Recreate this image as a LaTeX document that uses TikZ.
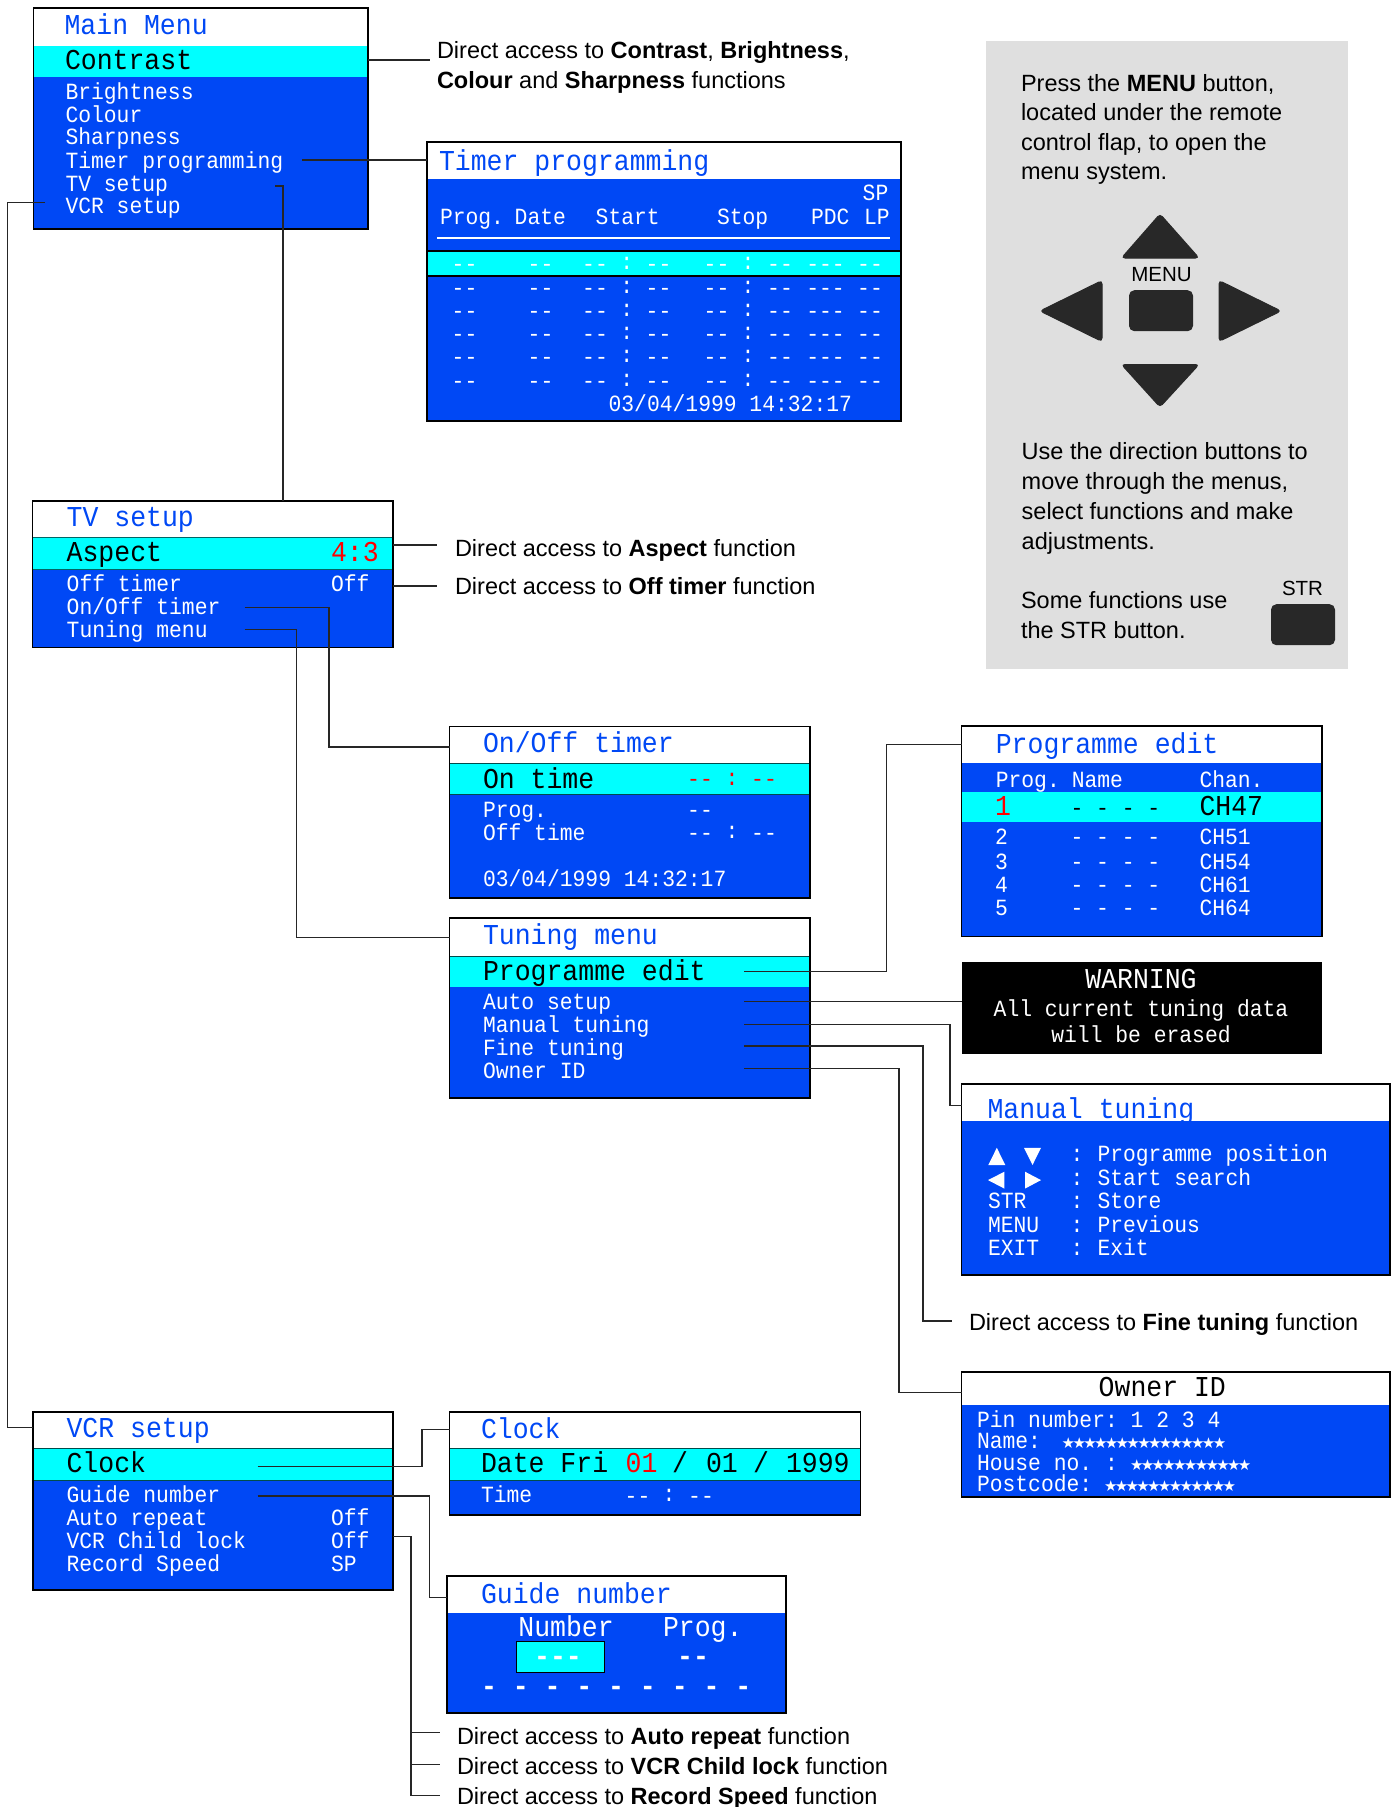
\documentclass[tikz,border=0pt]{standalone}
\usepackage{fontspec}
\setmainfont{Liberation Sans}
\setmonofont[FakeStretch=0.92]{Liberation Mono}
\newfontfamily\symf{DejaVu Sans}
\definecolor{osd}{HTML}{0048F5}
\definecolor{cy}{HTML}{00FFFF}
\definecolor{panel}{HTML}{DFDFDF}
\definecolor{btn}{HTML}{282828}
\newcounter{tc}
\tikzset{
  txt/.style={anchor=base west,inner sep=0pt,outer sep=0pt},
  big/.style={txt,font=\fontsize{28.8}{30}\selectfont\ttfamily},
  bigb/.style={txt,font=\fontsize{28.8}{30}\selectfont\ttfamily\bfseries},
  small/.style={txt,font=\fontsize{23.2}{25}\selectfont\ttfamily},
  w/.style={text=white},
  ttl/.style={big,text=osd},
  hd/.style={big,text=black},
  note/.style={txt,font=\fontsize{23.5}{28}\selectfont},
  pan/.style={txt,font=\fontsize{23.5}{28}\selectfont},
  keycap/.style={anchor=base,inner sep=0pt,outer sep=0pt,font=\fontsize{20.5}{24}\selectfont},
  dashc/.style={small,anchor=base,text=white},
  conn/.style={line width=1.3pt,draw=black!85},
  frame/.style={line width=1.7pt,draw=black},
  keyb/.style={fill=btn,draw=btn,line width=1pt,rounded corners=3.5pt},
  bg/.style={fill=white,inner sep=0pt,outer sep=0pt,anchor=north west},
}
\newcommand{\lab}[4]{\stepcounter{tc}\node[#1] (t\arabic{tc}) at (#2,#3) {#4};}
\newcommand{\screen}[5]{\node[bg,minimum width={(#4-#2)*1pt},minimum height={(#5-#3)*1pt}] (#1) at (#2,#3) {};}
\newcommand{\body}[4]{\fill[osd] (#1,#3) rectangle (#2,#4);}
\newcommand{\band}[4]{\fill[cy] (#1,#3) rectangle (#2,#4);}
\newcommand{\outline}[1]{\draw[frame] (#1.north west) rectangle (#1.south east);}
\newcommand{\strs}[1]{{\symf\fontsize{15}{15}\selectfont\foreach \i in {1,...,#1}{★\kern-2.65pt}}}
\begin{document}
\begin{tikzpicture}[x=1pt,y=-1pt]
\useasboundingbox (0,0) rectangle (1396,1807);
\fill[white] (0,0) rectangle (1396,1807);

% ---------- grey panel
\fill[panel] (986,41) rectangle (1348,669);
\lab{pan}{1021}{91}{Press the \textbf{MENU} button,}
\lab{pan}{1021}{120.5}{located under the remote}
\lab{pan}{1021}{150}{control flap, to open the}
\lab{pan}{1021}{179}{menu system.}
\lab{pan}{1021.7}{459}{Use the direction buttons to}
\lab{pan}{1021.7}{489.5}{move through the menus,}
\lab{pan}{1021.7}{519.5}{select functions and make}
\lab{pan}{1021.7}{549}{adjustments.}
\lab{pan}{1021}{608.7}{Some functions use}
\lab{pan}{1021}{638.6}{the STR button.}
\lab{keycap}{1161.5}{281}{MENU}
\lab{keycap}{1302.5}{595}{STR}
\draw[keyb] (1160,214) -- (1199,258) -- (1121.5,258) -- cycle;
\draw[keyb] (1160,407) -- (1199,364.5) -- (1121.5,364.5) -- cycle;
\draw[keyb] (1040,311) -- (1102,280.5) -- (1102,341.5) -- cycle;
\draw[keyb] (1281,311) -- (1219,280.5) -- (1219,341.5) -- cycle;
\node[keyb,inner sep=0pt,minimum width=63pt,minimum height=40pt,rounded corners=5pt] (menubtn) at (1161,310.7) {};
\node[keyb,inner sep=0pt,minimum width=63pt,minimum height=40pt,rounded corners=5pt] (strbtn) at (1303,624.7) {};

% ---------- Main menu
\screen{mainbox}{33.5}{8}{368}{229}
\body{33.5}{368}{46}{229}
\band{33.5}{368}{46}{77}
% ---------- Timer programming
\screen{timerbox}{427}{142}{901}{421}
\body{427}{901}{179}{421}
\band{427}{901}{251}{276}
\draw[line width=1.2pt,black] (427,251) -- (901,251) (427,276) -- (901,276);
\draw[white,line width=2pt] (437,238) -- (890,238);
% ---------- TV setup
\screen{tvbox}{32.5}{501}{393}{647.5}
\body{32.5}{393}{537.5}{647.5}
\band{32.5}{393}{537.5}{569}
\draw[line width=.8pt,black!60!cy] (32.5,537.5) -- (393,537.5) (32.5,569) -- (393,569);
% ---------- On/Off timer
\screen{onoffbox}{449.5}{726.5}{810}{898}
\body{449.5}{810}{763}{898}
\band{449.5}{810}{763}{794}
\draw[line width=.8pt,black!70!cy] (449.5,763) -- (810,763) (449.5,794) -- (810,794);
% ---------- Tuning menu
\screen{tuningbox}{449.5}{918}{810}{1097.7}
\body{449.5}{810}{956}{1097.7}
\band{449.5}{810}{956}{986.6}
\draw[line width=.8pt,black!70!cy] (449.5,956) -- (810,956);
% ---------- Programme edit
\screen{progbox}{961.5}{725.8}{1321.8}{936.5}
\body{961.5}{1321.8}{763}{936.5}
\band{961.5}{1321.8}{791.6}{822}
% ---------- Warning
\node[bg,fill=black,minimum width=360.3pt,minimum height=92pt] (warnbox) at (961.5,962) {};
% ---------- Manual tuning (the title is cut by the blue body)
\screen{manualbox}{961.5}{1084}{1390}{1275}
\lab{ttl}{987.5}{1118}{Manual tuning}
\body{961.5}{1390}{1121}{1275}
% ---------- Owner ID
\screen{ownerbox}{961.5}{1371.7}{1390}{1496.7}
\body{961.5}{1390}{1405.4}{1496.7}
% ---------- VCR setup
\screen{vcrbox}{32.7}{1411.7}{393}{1590}
\body{32.7}{393}{1448.7}{1590}
\band{32.7}{393}{1448.7}{1480}
\draw[line width=.8pt,black!70!cy] (32.7,1448.7) -- (393,1448.7) (32.7,1480) -- (393,1480);
% ---------- Clock
\screen{clockbox}{449.5}{1411.7}{860.5}{1514.7}
\body{449.5}{860.5}{1448.7}{1514.7}
\band{449.5}{860.5}{1448.7}{1480}
\draw[line width=.8pt,black!70!cy] (449.5,1448.7) -- (860.5,1448.7) (449.5,1480) -- (860.5,1480);
% ---------- Guide number
\screen{guidebox}{447}{1576}{786}{1713}
\body{447}{786}{1612.7}{1713}
\node[fill=cy,draw=black,line width=1pt,inner sep=0pt,outer sep=0pt,anchor=north west,minimum width=87.4pt,minimum height=31pt] (guidecell) at (516.6,1641.7) {};

\foreach \b in {mainbox,timerbox,tvbox,onoffbox,tuningbox,progbox,manualbox,ownerbox,vcrbox,clockbox,guidebox}{\outline{\b}}

% ---------- connector ends
\coordinate (cContrast) at (430,60);
\coordinate (sTimer) at (302,160);
\coordinate (sTV) at (275,186);
\coordinate (kTV) at (283,186);
\coordinate (sVCR) at (45,202.7);
\coordinate (kVCR) at (7.5,202.7);
\coordinate (eVCR) at (7.5,1427.7);
\coordinate (cAspect) at (437,545);
\coordinate (cOff) at (437,586);
\coordinate (sOnOff) at (244.6,607.4);
\coordinate (kOnOff) at (329,607.4);
\coordinate (eOnOff) at (329,747);
\coordinate (sTun) at (244.6,629.6);
\coordinate (kTun) at (296.5,629.6);
\coordinate (eTun) at (296.5,937.6);
\coordinate (sProg) at (744,971.6);
\coordinate (kProg) at (886.8,971.6);
\coordinate (eProg) at (886.8,744.7);
\coordinate (sAuto) at (744,1001.5);
\coordinate (sMan) at (744,1024.8);
\coordinate (kMan) at (950,1024.8);
\coordinate (eMan) at (950,1105.4);
\coordinate (sFine) at (744,1046);
\coordinate (kFine) at (923,1046);
\coordinate (eFine) at (923,1321);
\coordinate (fFine) at (951.8,1321);
\coordinate (sOwn) at (744,1068.7);
\coordinate (kOwn) at (899,1068.7);
\coordinate (eOwn) at (899,1392.7);
\coordinate (sClock) at (257.7,1466.7);
\coordinate (kClock) at (422,1466.7);
\coordinate (eClock) at (422,1429.3);
\coordinate (sGuide) at (257.7,1496);
\coordinate (kGuide) at (429.4,1496);
\coordinate (eGuide) at (429.4,1597.3);
\coordinate (kDir) at (411,1536.7);
\coordinate (eD1) at (411,1732.7);
\coordinate (fD1) at (440,1732.7);
\coordinate (eD2) at (411,1764.7);
\coordinate (fD2) at (440,1764.7);
\coordinate (eD3) at (411,1795.7);
\coordinate (fD3) at (440,1795.7);

% ---------- connectors
\draw[conn] (mainbox.east |- cContrast) -- (cContrast);
\draw[conn] (sTimer) -- (sTimer -| timerbox.west);
\draw[conn] (sTV) -- (kTV) -- (kTV |- tvbox.north);
\draw[conn] (sVCR) -- (kVCR) -- (eVCR) -- (eVCR -| vcrbox.west);
\draw[conn] (tvbox.east |- cAspect) -- (cAspect);
\draw[conn] (tvbox.east |- cOff) -- (cOff);
\draw[conn] (sOnOff) -- (kOnOff) -- (eOnOff) -- (eOnOff -| onoffbox.west);
\draw[conn] (sTun) -- (kTun) -- (eTun) -- (eTun -| tuningbox.west);
\draw[conn] (sProg) -- (kProg) -- (eProg) -- (eProg -| progbox.west);
\draw[conn] (sAuto) -- (sAuto -| warnbox.west);
\draw[conn] (sMan) -- (kMan) -- (eMan) -- (eMan -| manualbox.west);
\draw[conn] (sFine) -- (kFine) -- (eFine) -- (fFine);
\draw[conn] (sOwn) -- (kOwn) -- (eOwn) -- (eOwn -| ownerbox.west);
\draw[conn] (sClock) -- (kClock) -- (eClock) -- (eClock -| clockbox.west);
\draw[conn] (sGuide) -- (kGuide) -- (eGuide) -- (eGuide -| guidebox.west);
\draw[conn] (vcrbox.east |- kDir) -- (kDir) -- (eD3) -- (fD3);
\draw[conn] (eD1) -- (fD1);
\draw[conn] (eD2) -- (fD2);

% ---------- notes
\lab{note}{437}{58}{Direct access to \textbf{Contrast}, \textbf{Brightness},}
\lab{note}{437}{88}{\textbf{Colour} and \textbf{Sharpness} functions}
\lab{note}{455}{556}{Direct access to \textbf{Aspect} function}
\lab{note}{455}{594}{Direct access to \textbf{Off timer} function}
\lab{note}{969}{1330}{Direct access to \textbf{Fine tuning} function}
\lab{note}{457}{1744}{Direct access to \textbf{Auto repeat} function}
\lab{note}{457}{1774}{Direct access to \textbf{VCR Child lock} function}
\lab{note}{457}{1804}{Direct access to \textbf{Record Speed} function}

% ---------- main menu text
\lab{ttl}{64.6}{34.5}{Main Menu}
\lab{hd}{65}{69}{Contrast}
\lab{small,w}{65.5}{99}{Brightness}
\lab{small,w}{65.5}{122}{Colour}
\lab{small,w}{65.5}{144.7}{Sharpness}
\lab{small,w}{65.5}{168}{Timer programming}
\lab{small,w}{65.5}{191}{TV setup}
\lab{small,w}{65.5}{213}{VCR setup}

% ---------- timer text
\lab{ttl}{439}{170}{Timer programming}
\lab{small,w}{862.7}{200.7}{SP}
\lab{small,w}{440}{224}{Prog.}
\lab{small,w}{514.7}{224}{Date}
\lab{small,w}{595.7}{224}{Start}
\lab{small,w}{717}{224}{Stop}
\lab{small,w}{811}{224}{PDC}
\lab{small,w}{864}{224}{LP}
\foreach \r in {271.3,295,318,341,364,388}{
  \foreach \c in {464.5,540.5,595,658.5,716.5,780,870}{
    \lab{dashc}{\c}{\r}{-{}-}
  }
  \lab{dashc}{825.5}{\r}{-{}-{}-}
  \lab{dashc}{626.8}{\r-1.5}{:}
  \lab{dashc}{748}{\r-1.5}{:}
}
\lab{small,w}{608.6}{411.7}{03/04/1999 14:32:17}

% ---------- TV setup text
\lab{ttl}{66.7}{526.6}{TV setup}
\lab{hd}{66.7}{561}{Aspect}
\lab{big,text=red}{331}{561}{4:3}
\lab{small,w}{66.7}{591.5}{Off timer}
\lab{small,w}{331}{591.5}{Off}
\lab{small,w}{66.7}{614.5}{On/Off timer}
\lab{small,w}{66.7}{637.5}{Tuning menu}

% ---------- On/Off text
\lab{ttl}{483}{752.5}{On/Off timer}
\lab{hd}{483}{788}{On time}
\lab{dashc,text=red}{700}{786.5}{-{}-}
\lab{dashc,text=red}{732}{785}{:}
\lab{dashc,text=red}{764}{786.5}{-{}-}
\lab{small,w}{483}{817.5}{Prog.}
\lab{dashc}{700}{817.5}{-{}-}
\lab{small,w}{483}{840}{Off time}
\lab{dashc}{700}{840}{-{}-}
\lab{dashc}{732}{838.5}{:}
\lab{dashc}{764}{840}{-{}-}
\lab{small,w}{483}{886}{03/04/1999 14:32:17}

% ---------- Tuning text
\lab{ttl}{483}{944}{Tuning menu}
\lab{hd}{483}{980.5}{Programme edit}
\lab{small,w}{483}{1009}{Auto setup}
\lab{small,w}{483}{1032.5}{Manual tuning}
\lab{small,w}{483}{1055.5}{Fine tuning}
\lab{small,w}{483}{1078.4}{Owner ID}

% ---------- Programme edit text
\lab{ttl}{995.8}{753}{Programme edit}
\lab{small,w}{995.8}{787.5}{Prog.}
\lab{small,w}{1071.8}{787.5}{Name}
\lab{small,w}{1199.5}{787.5}{Chan.}
\lab{big,text=red}{995}{815.6}{1}
\lab{small}{1070.6}{815.5}{- - - -}
\lab{hd}{1199.5}{815.6}{CH47}
\foreach \n/\y/\ch in {2/844/CH51,3/869/CH54,4/892.6/CH61,5/915.6/CH64}{
  \lab{small,w}{995}{\y}{\n}
  \lab{small,w}{1070.6}{\y}{- - - -}
  \lab{small,w}{1199.5}{\y}{\ch}
}

% ---------- Warning text
\lab{big,anchor=base,w}{1141}{988.6}{WARNING}
\lab{small,anchor=base,w}{1141}{1016.6}{All current tuning data}
\lab{small,anchor=base,w}{1141}{1042}{will be erased}

% ---------- Manual tuning text
\fill[white] (988.3,1165) -- (1005.3,1165) -- (996.8,1147.8) -- cycle;
\fill[white] (1024,1147.8) -- (1041,1147.8) -- (1032.5,1165) -- cycle;
\fill[white] (1004.4,1171.7) -- (1004.4,1188.6) -- (988,1180.1) -- cycle;
\fill[white] (1025,1171.7) -- (1025,1188.6) -- (1041,1180.1) -- cycle;
\foreach \y/\k/\v in {1161.5//Programme position,1185.5//Start search,1208.5/STR/Store,1232/MENU/Previous,1255.5/EXIT/Exit}{
  \lab{small,w}{988}{\y}{\k}
  \lab{small,w,anchor=base}{1077}{\y}{:}
  \lab{small,w}{1097.5}{\y}{\v}
}

% ---------- Owner ID text
\lab{hd}{1098.7}{1396}{Owner ID}
\lab{small,w}{977}{1427}{Pin number: 1 2 3 4}
\lab{small,w}{977}{1448}{Name:}
\lab{txt,w}{1061.7}{1448}{\strs{15}}
\lab{small,w}{977}{1470}{House no. :}
\lab{txt,w}{1130}{1470}{\strs{11}}
\lab{small,w}{977}{1491.6}{Postcode:}
\lab{txt,w}{1104}{1491.6}{\strs{12}}

% ---------- VCR text
\lab{ttl}{66.6}{1437.7}{VCR setup}
\lab{hd}{66.6}{1472.7}{Clock}
\lab{small,w}{66.6}{1502.3}{Guide number}
\lab{small,w}{66.6}{1525}{Auto repeat}
\lab{small,w}{331}{1525}{Off}
\lab{small,w}{66.6}{1548}{VCR Child lock}
\lab{small,w}{331}{1548}{Off}
\lab{small,w}{66.6}{1571}{Record Speed}
\lab{small,w}{331}{1571}{SP}

% ---------- Clock text
\lab{ttl}{481}{1438}{Clock}
\lab{hd}{481}{1472.7}{Date Fri}
\lab{big,text=red}{625.7}{1472.7}{01}
\lab{hd}{672}{1472.7}{/}
\lab{hd}{706}{1472.7}{01}
\lab{hd}{753}{1472.7}{/}
\lab{hd}{786}{1472.7}{1999}
\lab{small,w}{481}{1502}{Time}
\lab{dashc}{637.5}{1503}{-{}-}
\lab{dashc}{669}{1501.5}{:}
\lab{dashc}{701}{1503}{-{}-}

% ---------- Guide text
\lab{ttl}{481}{1603.5}{Guide number}
\lab{big,w}{518.4}{1636}{Number}
\lab{big,w}{663}{1636}{Prog.}
\lab{bigb,anchor=base,w}{558}{1665.5}{-{}-{}-}
\lab{bigb,anchor=base,w}{693}{1665.5}{-{}-}
\lab{bigb,w}{481}{1695}{- - - - - - - - -}
\end{tikzpicture}
\end{document}
